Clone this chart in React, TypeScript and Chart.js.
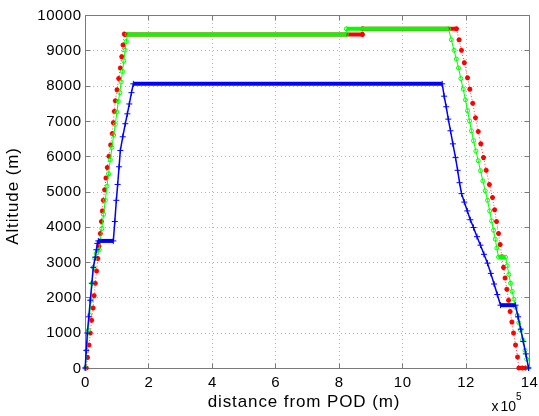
import { useEffect, useRef } from "react";
import { Chart, registerables } from "chart.js";

Chart.register(...registerables);

// Vertical profiles: distance from POD (m) vs altitude (m)
const blueDistance = [
  500, 4000, 7300, 12000, 16700, 21500, 26200, 32500, 36000, 38800, 42000,
  89300, 94000, 98800, 103000, 107500, 111400, 119000, 127100, 133500, 139800,
  146500, 152400, 1126400, 1132500, 1139000, 1145500, 1152500, 1160000,
  1168300, 1175000, 1181000, 1187200, 1196000, 1205500, 1215000, 1225000,
  1236000, 1247000, 1258000, 1269200, 1279500, 1290000, 1300000, 1310200,
  1357600, 1365500, 1374000, 1382000, 1390000, 1398600,
];
const blueAltitude = [
  0, 500, 990, 1450, 1920, 2400, 2850, 3140, 3350, 3530, 3600,
  3600, 4150, 4750, 5200, 5700, 6160, 6550, 6920, 7200, 7480,
  7800, 8050, 8050, 7700, 7400, 7050, 6720, 6350,
  5960, 5600, 5250, 4940, 4700, 4450, 4200, 3980,
  3720, 3480, 3220, 2970, 2680, 2380, 2080, 1780,
  1780, 1450, 1100, 750, 400, 0,
];

const greenDistance = [
  900, 5500, 10400, 14500, 18900, 22500, 26200, 31000, 35700, 40000, 45100,
  48300, 53000, 58500, 64000, 69500, 74300, 79800, 85000, 90500, 95600,
  100500, 105000, 109800, 114000, 118200, 122400, 126500, 130500, 133500,
  824000, 824000, 1146300, 1155000, 1163500, 1171000, 1177700, 1185000,
  1192500, 1199500, 1206100, 1212500, 1218500, 1225000, 1232500, 1240000,
  1247100, 1254500, 1262000, 1269200, 1276000, 1282000, 1288100, 1293500,
  1298500, 1303900, 1311000, 1318500, 1326000, 1331500, 1336500, 1341800,
  1347000, 1352500, 1357600, 1363000, 1368000, 1373400, 1380000, 1387500,
  1393000, 1398600,
];
const greenAltitude = [
  0, 500, 1070, 1500, 1920, 2400, 2850, 3100, 3250, 3330, 3350,
  3600, 3950, 4350, 4750, 5150, 5500, 5900, 6250, 6600, 6900,
  7250, 7550, 7800, 8100, 8400, 8700, 9000, 9250, 9450,
  9450, 9610, 9610, 9300, 9000, 8750, 8500, 8200,
  7900, 7600, 7290, 7000, 6720, 6440, 6150, 5870,
  5590, 5300, 5020, 4750, 4450, 4170, 3900, 3650,
  3400, 3140, 3140, 3140, 3140, 2900, 2650, 2400,
  2170, 1950, 1720, 1500, 1280, 1070, 800, 500,
  250, 0,
];

const redDistance = [
  4100, 8000, 12500, 16700, 21000, 25500, 28800, 32500, 36500, 40400, 44100,
  48300, 51700, 54700, 57700, 61800, 66100, 70300, 75400, 80900, 86100,
  89300, 92500, 95600, 101000, 106200, 111400, 115800, 119900, 124000, 127100,
  874900, 874900, 1171400, 1179500, 1187000, 1196000, 1206100, 1213500,
  1222500, 1231300, 1240000, 1248000, 1256600, 1265000, 1275000, 1285000,
  1291500, 1297500, 1303900, 1309000, 1314500, 1319700, 1324500, 1330000,
  1335500, 1340500, 1346000, 1351200, 1357500, 1363900, 1368000, 1378700,
  1389100,
];
const redAltitude = [
  0, 300, 650, 990, 1350, 1700, 2050, 2400, 2750, 3100, 3450,
  3810, 4150, 4450, 4750, 5050, 5380, 5680, 6000, 6320, 6640,
  6950, 7270, 7570, 7880, 8200, 8500, 8820, 9150, 9460, 9450,
  9450, 9610, 9610, 9300, 9000, 8650, 8220, 7900,
  7500, 7090, 6700, 6350, 5960, 5600, 5200, 4830,
  4480, 4150, 3810, 3500, 3150, 2850, 2550, 2230,
  1920, 1600, 1300, 990, 650, 310, 0, 0,
  0,
];

const xTicks = [0, 200000, 400000, 600000, 800000, 1000000, 1200000, 1400000];
const xTickLabels = ["0", "2", "4", "6", "8", "10", "12", "14"];
const yTicks = [0, 1000, 2000, 3000, 4000, 5000, 6000, 7000, 8000, 9000, 10000];
const yTickLabels = ["0", "1000", "2000", "3000", "4000", "5000", "6000", "7000", "8000", "9000", "10000"];

const xTitle = "distance from POD (m)";
const yTitle = "Altitude (m)";

const FONT = '"Liberation Sans", Arial, Helvetica, sans-serif';

const toPoints = (xs: number[], ys: number[]) => xs.map((x, i) => ({ x, y: ys[i] }));

const isFlat = (c: any) => c.p0.parsed.y === c.p1.parsed.y;

// MATLAB-style axes: dotted grid, boxed frame with inward ticks, text labels
const axesFrame = {
  id: "axesFrame",
  beforeDatasetsDraw(chart: any) {
    const { ctx, chartArea: a, scales } = chart;
    const xs = scales.x;
    const ys = scales.y;
    ctx.save();
    // grid
    ctx.strokeStyle = "#b4b4b4";
    ctx.lineWidth = 1;
    ctx.setLineDash([1, 3]);
    ctx.beginPath();
    xTicks.forEach((v) => {
      const px = Math.round(xs.getPixelForValue(v)) + 0.5;
      if (px <= a.left + 1 || px >= a.right - 1) return;
      ctx.moveTo(px, a.top);
      ctx.lineTo(px, a.bottom);
    });
    yTicks.forEach((v) => {
      const py = Math.round(ys.getPixelForValue(v)) + 0.5;
      if (py <= a.top + 1 || py >= a.bottom - 1) return;
      ctx.moveTo(a.left, py);
      ctx.lineTo(a.right, py);
    });
    ctx.stroke();
    ctx.setLineDash([]);

    // box and ticks
    const L = Math.round(a.left) + 0.5;
    const R = Math.round(a.right) + 0.5;
    const T = Math.round(a.top) + 0.5;
    const B = Math.round(a.bottom) + 0.5;
    ctx.strokeStyle = "#7a7a7a";
    ctx.beginPath();
    ctx.rect(L, T, R - L, B - T);
    const tl = 5;
    xTicks.forEach((v) => {
      const px = Math.round(xs.getPixelForValue(v)) + 0.5;
      ctx.moveTo(px, B);
      ctx.lineTo(px, B - tl);
      ctx.moveTo(px, T);
      ctx.lineTo(px, T + tl);
    });
    yTicks.forEach((v) => {
      const py = Math.round(ys.getPixelForValue(v)) + 0.5;
      ctx.moveTo(L, py);
      ctx.lineTo(L + tl, py);
      ctx.moveTo(R, py);
      ctx.lineTo(R - tl, py);
    });
    ctx.stroke();

    // tick labels
    ctx.fillStyle = "#000";
    ctx.font = `15px ${FONT}`;
    (ctx as any).letterSpacing = "0.5px";
    ctx.textAlign = "right";
    ctx.textBaseline = "middle";
    yTicks.forEach((v, i) => {
      ctx.fillText(yTickLabels[i], a.left - 3.5, ys.getPixelForValue(v) + 0.5);
    });
    ctx.textAlign = "center";
    ctx.textBaseline = "alphabetic";
    xTicks.forEach((v, i) => {
      ctx.fillText(xTickLabels[i], xs.getPixelForValue(v) + 0.5, 386.5);
    });

    // exponent marker: x 10^5
    (ctx as any).letterSpacing = "0px";
    ctx.textAlign = "left";
    ctx.font = `14px ${FONT}`;
    ctx.fillText("x", 491.5, 411);
    ctx.fillText("10", 500.5, 411);
    ctx.font = `10px ${FONT}`;
    ctx.fillText("5", 516, 400);

    // axis titles
    ctx.font = `17px ${FONT}`;
    (ctx as any).letterSpacing = "0.9px";
    ctx.textAlign = "center";
    ctx.fillText(xTitle, 304, 406.5);
    ctx.save();
    ctx.translate(18, 196);
    ctx.rotate(-Math.PI / 2);
    ctx.fillText(yTitle, 0, 0);
    ctx.restore();

    ctx.restore();
  },
};

export default function App() {
  const canvasRef = useRef<HTMLCanvasElement | null>(null);

  useEffect(() => {
    const canvas = canvasRef.current;
    if (!canvas) return;
    const chart = new Chart(canvas, {
      type: "line",
      data: {
        datasets: [
          {
            label: "blue",
            data: toPoints(blueDistance, blueAltitude),
            borderColor: "#0000ff",
            backgroundColor: "#0000ff",
            borderWidth: 1.5,
            pointStyle: "cross",
            pointRadius: 3,
            pointBorderWidth: 1,
            pointBorderColor: "#0000ff",
            clip: false,
            order: 0,
            segment: {
              borderWidth: (c: any) => (isFlat(c) ? 4 : 1.5),
            },
          },
          {
            label: "green",
            data: toPoints(greenDistance, greenAltitude),
            borderColor: "#00ff00",
            backgroundColor: "#00ff00",
            borderWidth: 1,
            pointStyle: "circle",
            pointRadius: 2,
            pointBorderWidth: 1,
            pointBorderColor: "#00ff00",
            pointBackgroundColor: "rgba(255,255,255,0)",
            clip: false,
            order: 1,
            segment: {
              borderWidth: (c: any) => (isFlat(c) ? 4 : 1),
            },
          },
          {
            label: "red",
            data: toPoints(redDistance, redAltitude),
            borderColor: "rgba(255,0,0,0.75)",
            backgroundColor: "#ff0000",
            borderWidth: 1,
            borderDash: [1, 2],
            pointStyle: "star",
            pointRadius: 2.5,
            pointBorderWidth: 1.5,
            pointBorderColor: "#ff0000",
            clip: false,
            order: 2,
            segment: {
              borderWidth: (c: any) => (isFlat(c) ? 4 : 1),
              borderDash: (c: any) => (isFlat(c) ? [] : [1, 2]),
              borderColor: (c: any) => (isFlat(c) ? "#ff0000" : "rgba(255,0,0,0.75)"),
            },
          },
        ],
      },
      options: {
        responsive: false,
        animation: false,
        events: [],
        layout: { padding: { left: 85, top: 15, right: 10, bottom: 48 } },
        scales: {
          x: { type: "linear", min: 0, max: 1400000, display: false },
          y: { type: "linear", min: 0, max: 10000, display: false },
        },
        plugins: {
          legend: { display: false },
          tooltip: { enabled: false },
        },
      },
      plugins: [axesFrame],
    });
    return () => chart.destroy();
  }, []);

  return (
    <div style={{ position: "fixed", left: 0, top: 0, width: 539, height: 416, background: "#fff" }}>
      <canvas ref={canvasRef} width={539} height={416} />
    </div>
  );
}
